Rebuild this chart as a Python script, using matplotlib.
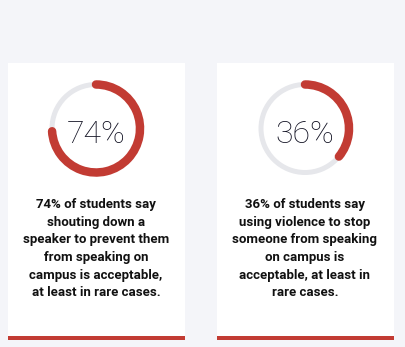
import matplotlib.pyplot as plt
from matplotlib.patches import Arc, Rectangle

# data
shares = [74, 36]
labels = ["74%", "36%"]
captions = [
    "74% of students say\nshouting down a\nspeaker to prevent them\nfrom speaking on\ncampus is acceptable,\nat least in rare cases.",
    "36% of students say\nusing violence to stop\nsomeone from speaking\non campus is\nacceptable, at least in\nrare cases.",
]

W, H = 406, 347
red = "#c23b33"
ring_grey = "#e6e7eb"
bg = "#f4f5f9"

fig = plt.figure(figsize=(W / 100, H / 100), dpi=100)
fig.patch.set_facecolor(bg)
ax = fig.add_axes([0, 0, 1, 1])
ax.set_xlim(0, W)
ax.set_ylim(0, H)
ax.axis("off")

pt = 72 / 100  # px -> pt
card_x = [8, 217]
card_w = 177
card_top = H - 63
card_bottom = H - 340

for i, v in enumerate(shares):
    x0 = card_x[i]
    cx = x0 + card_w / 2 - 0.5
    cy = H - 128.5
    # card
    ax.add_patch(Rectangle((x0, card_bottom), card_w, card_top - card_bottom,
                           facecolor="white", edgecolor="none"))
    ax.add_patch(Rectangle((x0, card_bottom), card_w, 4,
                           facecolor=red, edgecolor="none"))
    # ring
    ax.add_patch(Arc((cx, cy), 88, 88, theta1=0, theta2=360,
                     color=ring_grey, lw=5 * pt))
    arc = Arc((cx, cy), 88, 88, theta1=90 - 360 * v / 100, theta2=90,
              color=red, lw=8.5 * pt, capstyle="round")
    ax.add_patch(arc)
    ax.text(cx, cy - 6, labels[i], ha="center", va="center", fontsize=23,
            family="Roboto", fontweight="light", color="#111122")
    ax.text(cx, H - 198, captions[i], ha="center", va="top", fontsize=9.5,
            family="Roboto", fontweight="bold", color="#111111",
            linespacing=1.47)

fig.savefig("out.png", dpi=100, facecolor=bg)
